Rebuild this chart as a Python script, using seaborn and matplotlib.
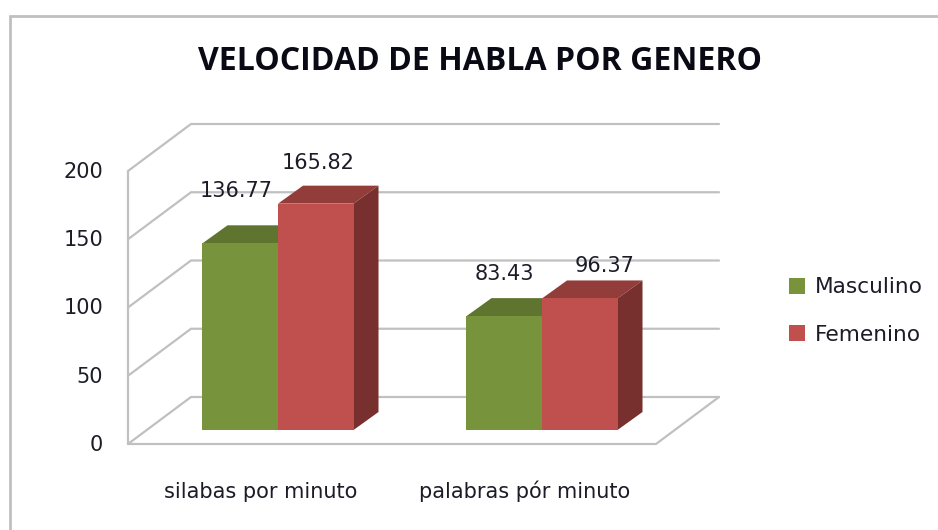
import pandas as pd
import seaborn as sns
import matplotlib.pyplot as plt
from matplotlib.lines import Line2D
from matplotlib.patches import Polygon
from matplotlib.transforms import IdentityTransform, ScaledTranslation

categories = ["silabas por minuto", "palabras pór minuto"]
masculino = [136.77, 83.43]
femenino = [165.82, 96.37]
series_names = ["Masculino", "Femenino"]
y_ticks = [0, 50, 100, 150, 200]
title = "VELOCIDAD DE HABLA POR GENERO"

W, H = 938, 530
GRID = "#c0c0c0"
TEXT = "#1c1c28"
FRONT = {"Masculino": "#77933C", "Femenino": "#C0504D"}
TOP = {"Masculino": "#5F752F", "Femenino": "#933D3B"}
SIDE = {"Masculino": "#4F6228", "Femenino": "#77302E"}

# fake 3D depth, in pixels from the plane the bars stand on
FLOOR_FRONT = (-18, -14)
FLOOR_BACK = (45, 33)
BAR_DEPTH = (25, 18)
# data label offset from the top centre of each bar, in pixels (per series)
LABEL_OFFSETS = [[(-4, 52), (0, 42)], [(2, 41), (25, 32)]]

sns.set_style("white")
plt.rcParams["font.family"] = ["DejaVu Sans"]

df = pd.DataFrame({
    "categoria": categories * 2,
    "genero": [series_names[0]] * 2 + [series_names[1]] * 2,
    "valor": masculino + femenino,
})

fig = plt.figure(figsize=(W / 100, H / 100), dpi=100)
ax = fig.add_axes([146 / W, 1 - 430 / H, 528 / W, 273 / H])

sns.barplot(data=df, x="categoria", y="valor", hue="genero", hue_order=series_names,
            palette=FRONT, width=0.572, gap=0, saturation=1, linewidth=0, ax=ax, zorder=3)
ax.set_xlim(-0.5, 1.5)
ax.set_ylim(0, 200)
ax.set_xlabel("")
ax.set_ylabel("")
ax.set_yticks(y_ticks)
ax.set_facecolor("none")
sns.despine(ax=ax, left=True, bottom=True)
ax.grid(False)


def project(x, y, depth=(0, 0)):
    """Data position to display pixels, pushed back by depth."""
    px, py = ax.transData.transform((x, y))
    return px + depth[0], py + depth[1]


def add_line(points):
    xs, ys = zip(*points)
    ax.add_line(Line2D(xs, ys, transform=IdentityTransform(), color=GRID, lw=1.6,
                       clip_on=False, zorder=0.5, solid_joinstyle="miter"))


# walls and floor
x0, x1 = ax.get_xlim()
for tick in y_ticks:
    add_line([project(x0, tick, FLOOR_FRONT), project(x0, tick, FLOOR_BACK), project(x1, tick, FLOOR_BACK)])
add_line([project(x0, 0, FLOOR_FRONT), project(x0, y_ticks[-1], FLOOR_FRONT)])
add_line([project(x0, 0, FLOOR_FRONT), project(x1, 0, FLOOR_FRONT), project(x1, 0, FLOOR_BACK)])

# top and side faces of the bars, taken from the seaborn bars
for name, container in zip(series_names, ax.containers):
    for bar in container:
        left, right = bar.get_x(), bar.get_x() + bar.get_width()
        h = bar.get_height()
        top = [project(left, h), project(right, h), project(right, h, BAR_DEPTH), project(left, h, BAR_DEPTH)]
        side = [project(right, 0), project(right, h), project(right, h, BAR_DEPTH), project(right, 0, BAR_DEPTH)]
        ax.add_patch(Polygon(top, closed=True, transform=IdentityTransform(), color=TOP[name],
                             lw=0, clip_on=False, zorder=2))
        ax.add_patch(Polygon(side, closed=True, transform=IdentityTransform(), color=SIDE[name],
                             lw=0, clip_on=False, zorder=2))

# data labels
for container, offsets in zip(ax.containers, LABEL_OFFSETS):
    for bar, offset in zip(container, offsets):
        ax.annotate(f"{bar.get_height():.2f}", (bar.get_x() + bar.get_width() / 2, bar.get_height()),
                    xytext=(offset[0] * 0.72, offset[1] * 0.72), textcoords="offset points",
                    ha="center", va="center", fontsize=15, color=TEXT, zorder=5, annotation_clip=False)

# tick labels sit on the front plane, not on the bar plane
ax.tick_params(axis="y", length=0, pad=31, labelsize=15, labelcolor=TEXT)
ax.tick_params(axis="x", length=0, pad=49, labelsize=15, labelcolor=TEXT)
for label in ax.get_yticklabels():
    label.set_transform(label.get_transform() + ScaledTranslation(0, -13 / 100, fig.dpi_scale_trans))
for label in ax.get_xticklabels():
    label.set_verticalalignment("baseline")
    label.set_transform(label.get_transform() + ScaledTranslation(-17 / 100, 0, fig.dpi_scale_trans))

# legend
legend = ax.legend(loc="center left", bbox_to_anchor=(789 / W, 1 - 311 / H),
                   bbox_transform=fig.transFigure, frameon=False, fontsize=15.6,
                   handlelength=0.74, handleheight=0.74, handletextpad=0.44,
                   labelspacing=1.25, borderpad=0, borderaxespad=0, labelcolor=TEXT)

fig.text(480 / W, 1 - 61 / H, title, ha="center", va="center", fontsize=23,
         fontweight="bold", family="Open Sans", color="#0a0a14")

# chart frame, cut off by the screenshot on the right and bottom
fig.add_artist(Line2D([10 / W, 10 / W, 1], [0, 1 - 16 / H, 1 - 16 / H], transform=fig.transFigure,
                      color=GRID, lw=2.0, solid_joinstyle="miter"))

fig.savefig("out.png", dpi=100)
